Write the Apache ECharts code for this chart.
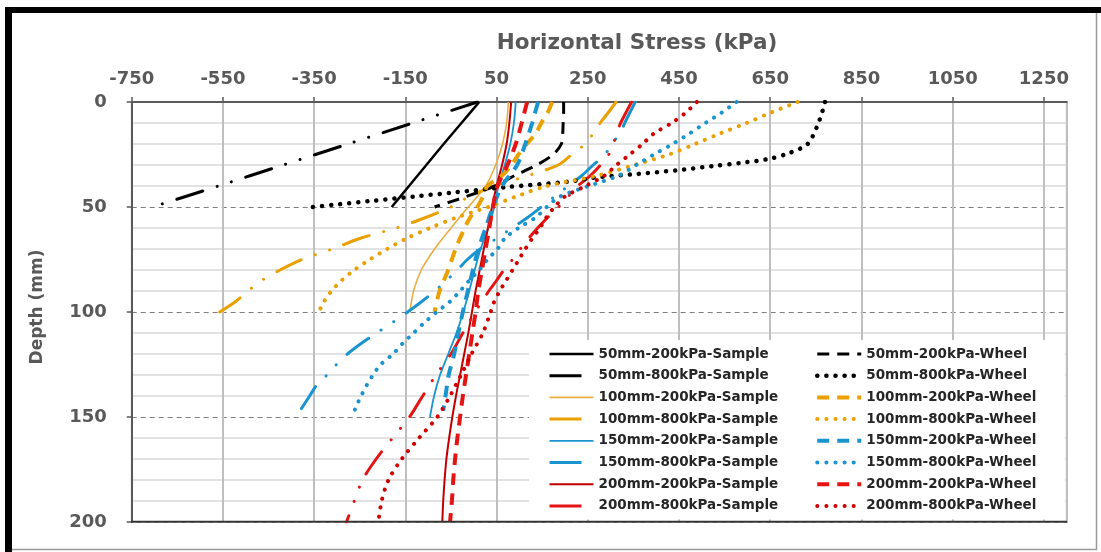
<!DOCTYPE html>
<html><head><meta charset="utf-8">
<script src="https://cdn.jsdelivr.net/npm/echarts@6/dist/echarts.min.js"></script>
<style>html,body{margin:0;padding:0;background:#fff}#c{width:1101px;height:552px}</style>
</head><body><div id="c"></div>
<script>
// ---- axis ticks ----
const xTicks = [-750, -550, -350, -150, 50, 250, 450, 650, 850, 1050, 1250];
const yTicks = [0, 50, 100, 150, 200];

// ---- Sample series ----
const d50_200_sample = [0, 10, 20, 30, 40, 50];
const v50_200_sample = [12, -27, -66, -104, -142, -180];

const d50_800_sample = [0, 10, 20, 30, 40, 49];
const v50_800_sample = [8, -134, -276, -418, -560, -690];

const d100_200_sample = [0, 10, 20, 30, 40, 50, 60, 70, 80, 90, 100];
const v100_200_sample = [76, 72, 63, 48, 26, -12, -50, -86, -115, -132, -140];

const d100_800_sample = [0, 5, 10, 15, 20, 25, 30, 35, 40, 45, 50, 55, 60, 65, 70, 75, 80, 85, 90, 95, 100];
const v100_800_sample = [312, 295, 277, 262, 244, 215, 185, 120, 45, -10, -50, -105, -170, -250, -310, -377, -425, -465, -495, -522, -557];

const d150_200_sample = [0, 10, 20, 30, 40, 50, 60, 70, 80, 90, 100, 110, 120, 130, 140, 150];
const v150_200_sample = [92, 88, 80, 68, 54, 45, 32, 15, 2, -10, -23, -38, -56, -74, -87, -96];

const d150_800_sample = [0, 10, 15, 20, 25, 30, 35, 40, 45, 50, 55, 60, 65, 70, 75, 80, 85, 90, 95, 100, 105, 110, 115, 120, 125, 130, 135, 140, 146];
const v150_800_sample = [354, 331, 321, 302, 288, 262, 237, 207, 177, 148, 118, 84, 50, 14, -14, -36, -60, -85, -114, -145, -178, -213, -247, -277, -301, -322, -345, -360, -378];

const d200_200_sample = [0, 10, 20, 30, 40, 50, 60, 70, 80, 90, 100, 110, 120, 130, 140, 150, 160, 170, 180, 190, 200];
const v200_200_sample = [82, 78, 72, 62, 50, 40, 31, 22, 13, 4, -4, -12, -21, -30, -39, -47, -54, -60, -64, -67, -69];

const d200_800_sample = [0, 10, 15, 20, 25, 30, 35, 40, 45, 50, 55, 60, 65, 70, 75, 80, 85, 90, 95, 100, 110, 120, 130, 140, 150, 160, 170, 180, 190, 200];
const v200_800_sample = [346, 322, 313, 306, 296, 278, 256, 228, 207, 186, 162, 140, 120, 102, 85, 66, 50, 33, 18, 3, -24, -50, -83, -112, -141, -178, -214, -244, -262, -279];

// ---- Wheel series ----
const d50_200_wheel = [0, 5, 10, 15, 20, 25, 30, 35, 40, 45, 50];
const v50_200_wheel = [197, 197, 196, 195, 192, 174, 138, 90, 46, -16, -86];

const d50_800_wheel = [0, 4, 12, 20, 24, 27, 29, 30.5, 32.5, 34.3, 35.7, 38, 40.5, 43, 45, 47, 49, 50];
const v50_800_wheel = [770, 765, 752, 732, 695, 650, 585, 525, 445, 358, 277, 205, 73, -40, -130, -220, -310, -355];

const d100_200_wheel = [0, 5, 10, 15, 20, 25, 30, 35, 40, 45, 50, 55, 60, 70, 80, 90, 100];
const v100_200_wheel = [172, 162, 148, 136, 116, 98, 83, 62, 30, 20, 8, -8, -20, -40, -56, -75, -86];

const d100_800_wheel = [0, 5, 10, 15, 20, 25, 30, 35, 40, 45, 50, 55, 60, 65, 70, 75, 80, 85, 90, 95, 100];
const v100_800_wheel = [710, 652, 598, 540, 485, 428, 352, 272, 160, 93, 32, -38, -96, -148, -190, -228, -262, -290, -312, -328, -340];

const d150_200_wheel = [0, 10, 20, 30, 40, 50, 60, 70, 80, 90, 100, 110, 120, 130, 140, 147];
const v150_200_wheel = [141, 128, 113, 95, 62, 42, 26, 10, -2, -13, -24, -34, -43, -55, -62, -67];

const d150_800_wheel = [0, 5, 10, 15, 20, 25, 30, 35, 40, 45, 50, 55, 60, 65, 70, 75, 80, 85, 90, 95, 100, 105, 110, 115, 120, 125, 130, 135, 140, 145, 148];
const v150_800_wheel = [576, 544, 508, 473, 436, 395, 356, 318, 252, 189, 160, 136, 98, 68, 52, 30, 12, -10, -30, -52, -81, -108, -132, -156, -177, -204, -221, -235, -247, -258, -263];

const d200_200_wheel = [0, 10, 20, 30, 40, 50, 60, 70, 80, 90, 100, 110, 120, 130, 140, 150, 160, 170, 180, 190, 200];
const v200_200_wheel = [117, 105, 92, 74, 52, 42, 34, 26, 18, 10, 4, -3, -10, -17, -24, -30, -36, -41, -45, -48, -52];

const d200_800_wheel = [0, 5, 10, 15, 20, 25, 30, 35, 40, 45, 50, 55, 60, 65, 70, 75, 80, 85, 90, 95, 100, 110, 120, 130, 140, 150, 160, 170, 180, 190, 200];
const v200_800_wheel = [489, 465, 434, 395, 370, 342, 313, 287, 245, 200, 177, 159, 145, 128, 113, 99, 85, 71, 57, 45, 37, 20, -5, -28, -52, -80, -120, -158, -187, -202, -209];

// ---- styles ----
const BLACK = '#000000', ORANGE = '#E9A000', ORANGE_L = '#E8AE42', BLUE = '#1A94CF', RED_D = '#C00000', RED = '#E41414', RED_DOT = '#D00000';
const DASHDOT = [27, 15, 0.1, 15, 0.1, 15];
const DASH = [12, 8];
const DOT = [0.1, 9];

function mk(name, depth, vals, color, width, type, cap) {
  return {
    name: name, type: 'line', symbol: 'none', smooth: 0.3,
    data: vals.map((v, i) => [v, depth[i]]),
    lineStyle: {color: color, width: width, type: type, cap: cap || 'butt'},
    itemStyle: {color: color},
    emphasis: {disabled: true}
  };
}

const series = [
  mk('50mm-200kPa-Sample', d50_200_sample, v50_200_sample, BLACK, 2.5, 'solid'),
  mk('50mm-800kPa-Sample', d50_800_sample, v50_800_sample, BLACK, 3, DASHDOT, 'round'),
  mk('100mm-200kPa-Sample', d100_200_sample, v100_200_sample, ORANGE_L, 1.6, 'solid'),
  mk('100mm-800kPa-Sample', d100_800_sample, v100_800_sample, ORANGE, 3, DASHDOT, 'round'),
  mk('150mm-200kPa-Sample', d150_200_sample, v150_200_sample, BLUE, 1.8, 'solid'),
  mk('150mm-800kPa-Sample', d150_800_sample, v150_800_sample, BLUE, 3, DASHDOT, 'round'),
  mk('200mm-200kPa-Sample', d200_200_sample, v200_200_sample, RED_D, 2, 'solid'),
  mk('200mm-800kPa-Sample', d200_800_sample, v200_800_sample, RED, 3, DASHDOT, 'round'),
  mk('50mm-200kPa-Wheel', d50_200_wheel, v50_200_wheel, BLACK, 3, DASH),
  mk('50mm-800kPa-Wheel', d50_800_wheel, v50_800_wheel, BLACK, 4.5, DOT, 'round'),
  mk('100mm-200kPa-Wheel', d100_200_wheel, v100_200_wheel, ORANGE, 4, DASH),
  mk('100mm-800kPa-Wheel', d100_800_wheel, v100_800_wheel, ORANGE, 4, DOT, 'round'),
  mk('150mm-200kPa-Wheel', d150_200_wheel, v150_200_wheel, BLUE, 4, DASH),
  mk('150mm-800kPa-Wheel', d150_800_wheel, v150_800_wheel, BLUE, 4, DOT, 'round'),
  mk('200mm-200kPa-Wheel', d200_200_wheel, v200_200_wheel, RED, 4, DASH),
  mk('200mm-800kPa-Wheel', d200_800_wheel, v200_800_wheel, RED_DOT, 4, DOT, 'round')
];

// legend entries: the 800 kPa sample icons show only one short dash
const sampleLegend = series.slice(0, 8).map(s =>
  Array.isArray(s.lineStyle.type) && s.lineStyle.type.length === 6
    ? {name: s.name, lineStyle: {type: [32, 60], cap: 'butt'}}
    : {name: s.name});
const wheelLegend = series.slice(8).map(s => ({name: s.name}));

const FONT = 'DejaVu Sans';
const legendBase = {
  orient: 'vertical', itemWidth: 44, itemHeight: 14, itemGap: 5.7, padding: 0,
  selectedMode: false,
  textStyle: {fontFamily: FONT, fontSize: 13.5, fontWeight: 'bold', color: '#262626', lineHeight: 16},
  itemStyle: {color: 'transparent', borderWidth: 0, opacity: 0},
  lineStyle: {width: 'inherit'}
};

const chart = echarts.init(document.getElementById('c'), null, {renderer: 'canvas'});
chart.setOption({
  animation: false,
  backgroundColor: '#ffffff',
  grid: {left: 131.7, top: 102, right: 34.3, bottom: 30, show: true, borderColor: '#333333', borderWidth: 1.5, backgroundColor: 'transparent'},
  xAxis: {
    type: 'value', position: 'top', min: xTicks[0], max: 1300, interval: 200,
    axisLine: {show: true, onZero: false, lineStyle: {color: '#595959', width: 2}},
    axisTick: {show: true, length: 5, lineStyle: {color: '#595959', width: 1.5}},
    axisLabel: {color: '#595959', fontFamily: FONT, fontWeight: 'bold', fontSize: 18, margin: 14, showMaxLabel: false,
      formatter: v => (xTicks.indexOf(v) >= 0 ? String(v) : '')},
    splitLine: {show: true, lineStyle: {color: '#BFBFBF', width: 2}}
  },
  yAxis: {
    type: 'value', inverse: true, min: yTicks[0], max: yTicks[yTicks.length - 1], interval: 50,
    axisLine: {show: true, onZero: false, lineStyle: {color: '#595959', width: 2}},
    axisTick: {show: true, length: 5, lineStyle: {color: '#595959', width: 1.5}},
    axisLabel: {color: '#595959', fontFamily: FONT, fontWeight: 'bold', fontSize: 18, margin: 25},
    splitLine: {show: true, lineStyle: {color: '#7F7F7F', width: 1, type: [5, 4]}},
    minorTick: {show: false, splitNumber: 5},
    minorSplitLine: {show: true, lineStyle: {color: '#D9D9D9', width: 1.5}}
  },
  legend: [
    Object.assign({}, legendBase, {data: sampleLegend, left: 548, top: 346}),
    Object.assign({}, legendBase, {data: wheelLegend, left: 815, top: 346})
  ],
  graphic: [
    {type: 'rect', z: 1, shape: {x: 529, y: 340, width: 536, height: 179.5}, style: {fill: '#ffffff'}},
    {type: 'line', z: 10, shape: {x1: 131, y1: 521.5, x2: 1067, y2: 521.5}, style: {stroke: '#333333', lineWidth: 1.5}},
    {type: 'text', z: 5, x: 637, y: 43, style: {text: 'Horizontal Stress (kPa)', font: 'bold 21.5px "DejaVu Sans"', fill: '#595959', textAlign: 'center', textVerticalAlign: 'middle'}},
    {type: 'text', z: 5, x: 38, y: 307, rotation: Math.PI / 2, style: {text: 'Depth (mm)', font: 'bold 17px "DejaVu Sans"', fill: '#595959', textAlign: 'center', textVerticalAlign: 'middle'}},
    {type: 'rect', z: 10, shape: {x: 5, y: 7, width: 1096, height: 6}, style: {fill: '#000'}},
    {type: 'rect', z: 10, shape: {x: 5, y: 7, width: 7, height: 545}, style: {fill: '#000'}},
    {type: 'line', z: 10, shape: {x1: 1096.5, y1: 13, x2: 1096.5, y2: 550}, style: {stroke: '#9a9a9a', lineWidth: 1.5}},
    {type: 'line', z: 10, shape: {x1: 12, y1: 549.5, x2: 1097, y2: 549.5}, style: {stroke: '#9a9a9a', lineWidth: 1.5}}
  ],
  series: series
});
</script>
</body></html>
